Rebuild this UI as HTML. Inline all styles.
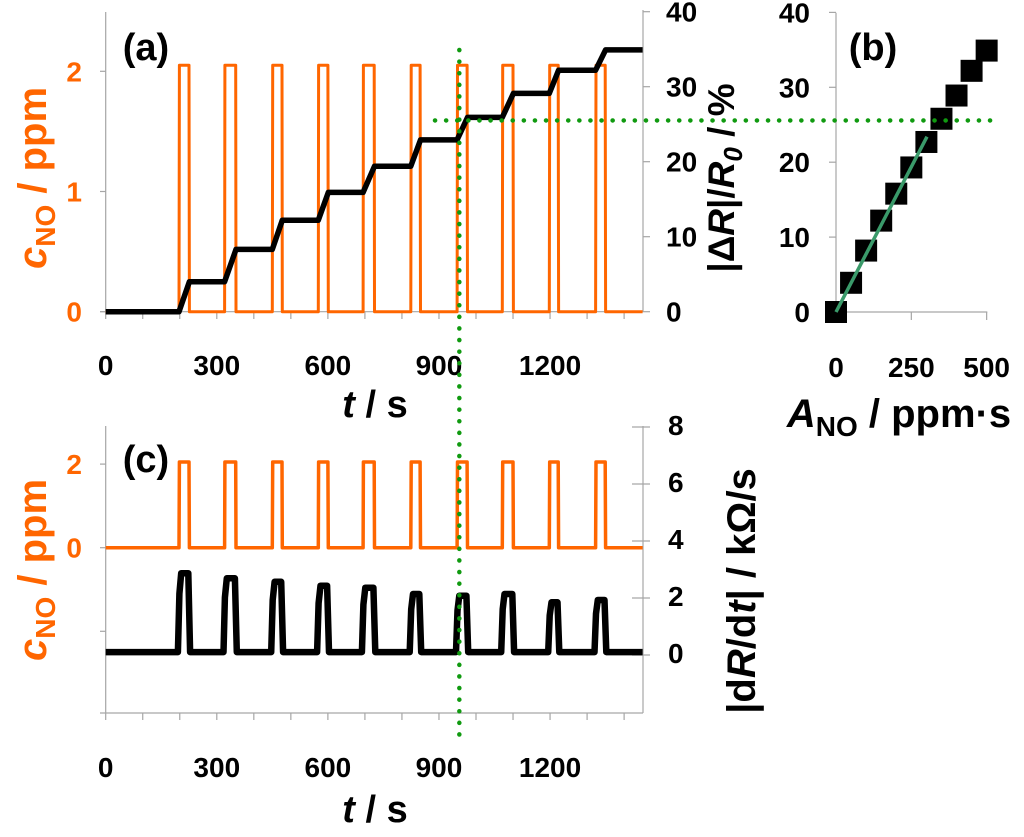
<!DOCTYPE html>
<html><head><meta charset="utf-8"><style>
html,body{margin:0;padding:0;background:#fff;}
svg{display:block;font-family:"Liberation Sans",Arial,sans-serif;font-weight:bold;}
</style></head><body>
<svg id="chart" width="1024" height="837" viewBox="0 0 1024 837" xmlns="http://www.w3.org/2000/svg">
<g id="layer"></g>
</svg>
<script>
// ---- data ----
const pulseStart = [198, 321, 450, 574, 695, 824, 949, 1071, 1198, 1323];
const pulseEnd   = [226, 352, 477, 601, 726, 850, 977, 1101, 1223, 1350];
const pulseConc  = [2.05, 2.05, 2.05, 2.05, 2.05, 2.05, 2.05, 2.05, 2.05, 2.05];
const stepLevels = [4.0, 8.3, 12.2, 15.9, 19.4, 22.9, 25.9, 29.1, 32.2, 34.9];
const rateBase   = 0.1;
const ratePeaks  = [2.87, 2.69, 2.57, 2.43, 2.36, 2.14, 2.08, 2.14, 1.85, 1.93];
const areaVals   = [0, 50, 100, 150, 200, 250, 300, 350, 400, 450, 500];
const respVals   = [0, 3.9, 8.2, 12.2, 15.8, 19.3, 22.7, 25.8, 28.9, 32.2, 34.9];
const fitA = [0, 302];
const fitR = [0, 23.4];
const tTicks = [0, 300, 600, 900, 1200];
const cTicksA = [0, 1, 2];
const dRTicks = [0, 10, 20, 30, 40];
const cTicksC = [0, 2];
const rateTicks = [0, 2, 4, 6, 8];
const bXTicks = [0, 250, 500];
const bYTicks = [0, 10, 20, 30, 40];
const markT = 955, markR = 25.5;

const NS = "http://www.w3.org/2000/svg";
const layer = document.getElementById('layer');
function el(tag, attrs, parent){
  const e = document.createElementNS(NS, tag);
  for (const k in attrs) e.setAttribute(k, attrs[k]);
  (parent||layer).appendChild(e);
  return e;
}
const xT = t => 105.7 + t * 0.3703;
const yCa = c => 311.7 - c * 120.2;
const yRa = r => 311.7 - r * 7.5;
const yCc = c => 547.7 - c * 41.8;
const yRc = v => 655 - v * 28.5;
const xB = a => 836 + a * 0.3013;
const yB = r => 312 - r * 7.49;

const TF = 28;
function text(x, y, s, size, fill, anchor, name){
  const t = el('text', {x:x, y:y, 'font-size':size, fill:fill||'#000', 'text-anchor':anchor||'middle'});
  t.textContent = s;
  
  
  return t;
}
function line(x1,y1,x2,y2,stroke,w,name){
  const l = el('line',{x1:x1,y1:y1,x2:x2,y2:y2,stroke:stroke,'stroke-width':w});
  
  
  return l;
}
function path(pts, stroke, w, name){
  const d = pts.map((p,i)=>(i?'L':'M')+p[0].toFixed(1)+','+p[1].toFixed(1)).join('');
  const p = el('path',{d:d,fill:'none',stroke:stroke,'stroke-width':w,'stroke-linejoin':'round'});
  
  
  return p;
}
const AX = '#a6a6a6';
const OR = '#ff6600';

// ===== Panel (a) =====
line(105.7, 12, 105.7, 311.7, AX, 1.2, 'a-left-axis');
line(643, 10, 643, 311.7, AX, 1.2, 'a-right-axis');
line(100, 311.7, 643, 311.7, AX, 1.2, 'a-x-axis');
for (let t = 0; t <= 1400; t += 100) line(xT(t), 311.7, xT(t), 319, AX, 1.2, 'a-x-tick');
tTicks.forEach(t => text(xT(t), 375, String(t), TF, '#000', 'middle', 'a-x-tick-label'));
cTicksA.forEach(c => { line(100, yCa(c), 105.7, yCa(c), AX, 1.2, 'a-left-tick'); text(82, yCa(c)+10, String(c), TF, OR, 'end', 'a-left-tick-label'); });
dRTicks.forEach(r => { line(643, yRa(r), 650, yRa(r), AX, 1.2, 'a-right-tick'); text(666, yRa(r)+10, String(r), TF, '#000', 'start', 'a-right-tick-label'); });

function concPts(yf){
  const pts = [[xT(0), yf(0)]];
  pulseStart.forEach((s,i)=>{
    pts.push([xT(s), yf(0)], [xT(s+1), yf(pulseConc[i])], [xT(pulseEnd[i]-1), yf(pulseConc[i])], [xT(pulseEnd[i]), yf(0)]);
  });
  pts.push([xT(1450), yf(0)]);
  return pts;
}
path(concPts(yCa), OR, 3, 'a-concentration-line');
const stair = [[xT(0), yRa(0)]];
let prev = 0;
pulseStart.forEach((s,i)=>{
  stair.push([xT(s), yRa(prev)], [xT(pulseEnd[i]), yRa(stepLevels[i])]);
  prev = stepLevels[i];
});
stair.push([xT(1450), yRa(prev)]);
path(stair, '#000', 5.5, 'a-response-staircase');

text(146, 60, '(a)', 38, '#000', 'middle', 'panel-a-label');
const at = el('text',{x:375,y:417,'font-size':38,fill:'#000','text-anchor':'middle'});


at.innerHTML = '<tspan font-style="italic">t</tspan> / s';
const lt = el('text',{transform:'translate(46,178) rotate(-90)','font-size':40,fill:OR,'text-anchor':'middle'});


lt.innerHTML = '<tspan font-style="italic">c</tspan><tspan font-size="28" dy="9">NO</tspan><tspan dy="-9"> / ppm</tspan>';
const rt = el('text',{transform:'translate(734,178) rotate(-90)','font-size':37,fill:'#000','text-anchor':'middle'});


rt.innerHTML = '|Δ<tspan font-style="italic">R</tspan>|/<tspan font-style="italic">R</tspan><tspan font-size="26" dy="8" font-style="italic">0</tspan><tspan dy="-8"> / %</tspan>';

// ===== Panel (b) =====
line(836, 12.7, 836, 312, AX, 1.2, 'b-y-axis');
line(836, 312, 987.3, 312, AX, 1.2, 'b-x-axis');
bYTicks.forEach(r => { line(829, yB(r), 836, yB(r), AX, 1.2, 'b-y-tick'); text(810, yB(r)+10, String(r), TF, '#000', 'end', 'b-y-tick-label'); });
bXTicks.forEach(a => { line(xB(a), 312, xB(a), 320, AX, 1.2, 'b-x-tick'); text(xB(a), 377, String(a), TF, '#000', 'middle', 'b-x-tick-label'); });
areaVals.forEach((a,i)=>{
  const r = el('rect',{x:xB(a)-11, y:yB(respVals[i])-11, width:22, height:22, fill:'#000'});
  
  
});
line(xB(fitA[0]), yB(fitR[0]), xB(fitA[1]), yB(fitR[1]), '#3a9a6a', 3.5, 'b-fit-line');
text(873, 60, '(b)', 38, '#000', 'middle', 'panel-b-label');
const bt = el('text',{x:899,y:427,'font-size':40,fill:'#000','text-anchor':'middle'});


bt.innerHTML = '<tspan font-style="italic">A</tspan><tspan font-size="28" dy="9">NO</tspan><tspan dy="-9"> / ppm·s</tspan>';

// ===== Panel (c) =====
line(105.7, 426, 105.7, 713, AX, 1.2, 'c-left-axis');
line(643, 426, 643, 713, AX, 1.2, 'c-right-axis');
line(100, 713, 643, 713, AX, 1.2, 'c-x-axis');
for (let t = 0; t <= 1400; t += 100) line(xT(t), 713, xT(t), 720, AX, 1.2, 'c-x-tick');
tTicks.forEach(t => text(xT(t), 777, String(t), TF, '#000', 'middle', 'c-x-tick-label'));
[-2, 0, 2].forEach(c => line(100, yCc(c), 105.7, yCc(c), AX, 1.2, 'c-left-tick'));
cTicksC.forEach(c => text(82, yCc(c)+10, String(c), TF, OR, 'end', 'c-left-tick-label'));
rateTicks.forEach(v => { line(632, yRc(v), 650, yRc(v), AX, 1.2, 'c-right-tick'); text(668, yRc(v)+8, String(v), TF, '#000', 'start', 'c-right-tick-label'); });
path(concPts(yCc), OR, 3.5, 'c-concentration-line');
const rp = [[xT(0), yRc(rateBase)]];
pulseStart.forEach((s,i)=>{
  const e = pulseEnd[i];
  rp.push([xT(s-3), yRc(rateBase)], [xT(s+1), yRc(ratePeaks[i]*0.75)], [xT(s+6), yRc(ratePeaks[i])], [xT(e-3), yRc(ratePeaks[i])], [xT(e+2), yRc(rateBase)]);
});
rp.push([xT(1450), yRc(rateBase)]);
path(rp, '#000', 6.5, 'c-rate-line');
text(146, 472, '(c)', 38, '#000', 'middle', 'panel-c-label');
const ct = el('text',{x:375,y:822,'font-size':38,fill:'#000','text-anchor':'middle'});


ct.innerHTML = '<tspan font-style="italic">t</tspan> / s';
const clt = el('text',{transform:'translate(46,570) rotate(-90)','font-size':40,fill:OR,'text-anchor':'middle'});


clt.innerHTML = '<tspan font-style="italic">c</tspan><tspan font-size="28" dy="9">NO</tspan><tspan dy="-9"> / ppm</tspan>';
const crt = el('text',{transform:'translate(755,591) rotate(-90)','font-size':40,fill:'#000','text-anchor':'middle'});


crt.innerHTML = '|d<tspan font-style="italic">R</tspan>/d<tspan font-style="italic">t</tspan>| / kΩ/s';

// ===== green guide lines =====
const gv = line(xT(markT), 50, xT(markT), 745, '#109a10', 4.5, 'vertical-guide-line');
gv.setAttribute('stroke-dasharray','0.1 11.5'); gv.setAttribute('stroke-linecap','round');
const gh = line(435, yRa(markR), 997, yRa(markR), '#109a10', 4.5, 'horizontal-guide-line');
gh.setAttribute('stroke-dasharray','0.1 11'); gh.setAttribute('stroke-linecap','round');
</script>
</body></html>
